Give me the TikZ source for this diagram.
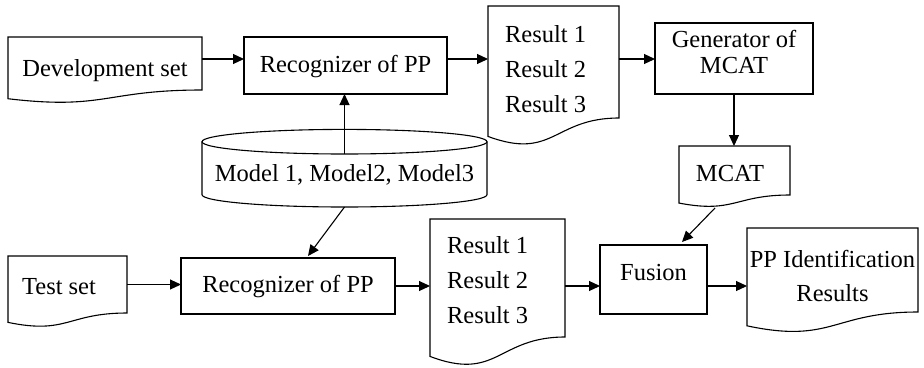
\documentclass[tikz,border=0pt]{standalone}
\usepackage{fontspec}
\setmainfont{Liberation Serif}
\usetikzlibrary{calc,arrows.meta}
\newcommand\mv[3]{\raisebox{#2}[\height][\depth]{\hspace*{#1}#3\hspace*{-#1}}}
\newcommand\docoutline[1]{\draw[ln] (#1.south east) -- (#1.north east) -- (#1.north west) -- ($(#1.south west)!-0.1645!(#1.north west)$) .. controls ($(#1.south)!-0.381!(#1.north)$) and (#1.south) .. (#1.south east) -- cycle;}
\tikzset{
  ln/.style={line width=1.1bp, draw=black},
  fnt/.style={font=\fontsize{24.5bp}{28bp}\selectfont},
  box/.style={ln, rectangle, inner sep=0pt, outer sep=0pt, fnt},
  docn/.style={rectangle, inner sep=0pt, outer sep=0pt, fnt},
  tx/.style={text height=16.2bp, text depth=0pt},
  arr/.style={line width=1.1bp, -{Triangle[length=11bp,width=10bp]}},
}
\begin{document}
\begin{tikzpicture}[x=1bp,y=-1bp]
\useasboundingbox (0,0) rectangle (924,367);
% nodes
\node[docn, tx, minimum width=194bp, minimum height=53bp] (dev) at (105,63.5) {\mv{0bp}{-4.5bp}{Development set}};
\node[box, tx, minimum width=203bp, minimum height=57bp] (rec1) at (345.5,65.5) {\mv{0bp}{1bp}{Recognizer of PP}};
\node[docn, font=\fontsize{24.5bp}{35bp}\selectfont, minimum width=131bp, minimum height=112bp] (res1) at (553.5,62) {\mv{-7.9bp}{-8bp}{\begin{tabular}{@{}l@{}}Result 1\\Result 2\\Result 3\end{tabular}}};
\node[box, font=\fontsize{24.5bp}{26.5bp}\selectfont, minimum width=158bp, minimum height=71bp] (gen) at (734,58.5) {\mv{0bp}{3.3bp}{\begin{tabular}{@{}c@{}}Generator of\\MCAT\end{tabular}}};
\node[docn, tx, minimum width=111bp, minimum height=49bp] (mcat) at (734.5,170.5) {\mv{-4.5bp}{-2.5bp}{MCAT}};
\node[docn, tx, minimum width=285bp, minimum height=53bp] (db) at (344.5,180.5) {\mv{0bp}{7bp}{Model 1, Model2, Model3}};
\node[docn, tx, minimum width=119bp, minimum height=57bp] (test) at (67.5,284.5) {\mv{-8.5bp}{-2bp}{Test set}};
\node[box, tx, minimum width=214bp, minimum height=56bp] (rec2) at (288,286) {\mv{0bp}{1.5bp}{Recognizer of PP}};
\node[docn, font=\fontsize{24.5bp}{35bp}\selectfont, minimum width=135bp, minimum height=118bp] (res2) at (497.5,278) {\mv{-9.9bp}{-3bp}{\begin{tabular}{@{}l@{}}Result 1\\Result 2\\Result 3\end{tabular}}};
\node[box, tx, minimum width=107bp, minimum height=69bp] (fus) at (653.5,279.5) {\mv{0bp}{7bp}{Fusion}};
\node[docn, font=\fontsize{24.5bp}{34bp}\selectfont, minimum width=171bp, minimum height=84bp] (pp) at (832.5,270) {\mv{0bp}{-7.5bp}{\begin{tabular}{@{}c@{}}PP Identification\\Results\end{tabular}}};
% document outlines
\docoutline{dev}
\docoutline{res1}
\docoutline{mcat}
\docoutline{test}
\docoutline{res2}
\docoutline{pp}
% cylinder
\draw[ln] ($(db.north)+(0,-12.3)$) ellipse [x radius=142.5bp, y radius=12.3bp];
\draw[ln] ($(db.north west)+(0,-12.3)$) -- ($(db.south west)+(0,-12.3)$) arc[start angle=180, end angle=360, x radius=142.5bp, y radius=12.3bp] -- ($(db.north east)+(0,-12.3)$);
% connectors
\draw[arr] ($(dev.east)+(0,-4.5)$) -- ($(rec1.west |- dev.east)+(0,-4.5)$);
\draw[arr] ($(rec1.east)+(0,-6.5)$) -- ($(res1.west |- rec1.east)+(0,-6.5)$);
\draw[arr] ($(res1.east)+(0,-3)$) -- ($(gen.west |- res1.east)+(0,-3)$);
\draw[arr] (gen.south) -- (gen.south |- mcat.north);
\draw[arr] ($(mcat.south)+(-19.5,13)$) -- ($(fus.north)+(28.5,-3)$);
\draw[arr] (db.north) -- (db.north |- rec1.south);
\draw[arr] (db.south) -- ($(rec2.north)+(20,-2)$);
\draw[arr] (test.east) -- (test.east -| rec2.west);
\draw[arr] (rec2.east) -- (rec2.east -| res2.west);
\draw[arr] ($(res2.east)+(0,8)$) -- ($(fus.west |- res2.east)+(0,8)$);
\draw[arr] ($(fus.east)+(0,6.5)$) -- ($(pp.west |- fus.east)+(0,6.5)$);
\end{tikzpicture}
\end{document}
